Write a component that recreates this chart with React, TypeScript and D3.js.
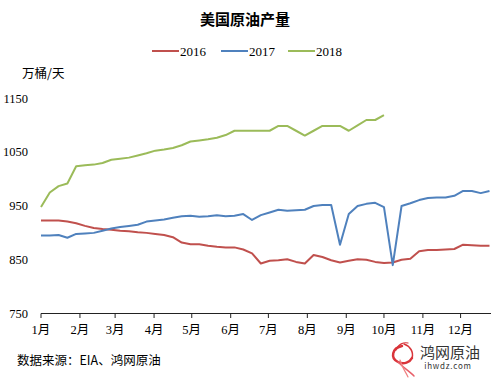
import React from "react";
import * as d3 from "d3";

const seriesNames = ["2016", "2017", "2018"];
const seriesColors = ["#c0504d", "#4f81bd", "#9bbb59"];

const prod2016 = [923, 923, 923, 921, 918, 913, 909, 907, 906, 904, 903, 901, 900, 898, 896, 892, 882, 879, 879, 876, 874, 873, 873, 869, 862, 843, 848, 849, 851, 846, 843, 859, 855, 849, 845, 848, 851, 850, 846, 844, 845, 850, 852, 866, 868, 868, 869, 870, 878, 877, 876, 876];
const prod2017 = [895, 895, 896, 891, 898, 899, 900, 904, 908, 911, 913, 915, 921, 923, 925, 928, 931, 932, 930, 931, 933, 931, 932, 935, 924, 933, 938, 943, 941, 942, 943, 950, 952, 952, 878, 935, 950, 954, 956, 948, 840, 950, 955, 961, 965, 966, 966, 969, 978, 978, 974, 978];
const prod2018 = [948, 975, 987, 992, 1024, 1026, 1027, 1030, 1036, 1038, 1040, 1044, 1048, 1053, 1055, 1058, 1063, 1070, 1072, 1074, 1077, 1082, 1090, 1090, 1090, 1090, 1090, 1099, 1099, 1090, 1081, 1090, 1099, 1099, 1099, 1090, 1100, 1110, 1110, 1119];

const monthLabels = ["1月", "2月", "3月", "4月", "5月", "6月", "7月", "8月", "9月", "10月", "11月", "12月"];
const yTicks = [750, 850, 950, 1050, 1150];

const W = 491, H = 378;
const start = new Date(2018, 0, 1);
const end = new Date(2018, 11, 26);
const x = d3.scaleTime().domain([start, end]).range([41, 492]);
const y = d3.scaleLinear().domain([750, 1150]).range([313.5, 98.5]);
const weekDate = (i: number) => d3.timeDay.offset(start, 7 * i);

const serif = "'Liberation Serif', 'Times New Roman', 'Noto Sans CJK SC', serif";
const sans = "'Noto Sans CJK SC', 'Noto Sans', sans-serif";

export default function App() {
  const allSeries = [prod2016, prod2017, prod2018];
  const line = d3
    .line<number>()
    .x((_, i) => x(weekDate(i)))
    .y((d) => y(d));
  const months = monthLabels.map((_, i) => new Date(2018, i, 1));
  const legendX = [152, 221, 288];

  return (
    <svg width={W} height={H} style={{ position: "absolute", left: 0, top: 0, background: "#fff" }}>
      <rect width={W} height={H} fill="#fff" />
      <text x={245} y={25} textAnchor="middle" fontFamily={sans} fontWeight="bold" fontSize={15} fill="#000">
        美国原油产量
      </text>
      {seriesNames.map((n, i) => (
        <g key={n}>
          <line x1={legendX[i]} x2={legendX[i] + 27} y1={51} y2={51} stroke={seriesColors[i]} strokeWidth={2} />
          <text x={legendX[i] + 28} y={55.5} fontFamily={serif} fontSize={13} fill="#000">
            {n}
          </text>
        </g>
      ))}
      <text x={22} y={78} fontFamily={sans} fontSize={12.5} fill="#000">
        万桶/天
      </text>
      {yTicks.map((t) => (
        <text key={t} x={28} y={y(t) + 4} textAnchor="end" fontFamily={serif} fontSize={12.5} fill="#000">
          {t}
        </text>
      ))}
      <line x1={41} x2={491} y1={313.5} y2={313.5} stroke="#222" strokeWidth={1} />
      {months.map((m, i) => (
        <g key={i}>
          <line x1={x(m)} x2={x(m)} y1={313.5} y2={318} stroke="#222" strokeWidth={1} />
          <text x={x(m)} y={334} textAnchor="middle" fontFamily={serif} fontSize={12.5} fill="#000">
            {monthLabels[i]}
          </text>
        </g>
      ))}
      {allSeries.map((s, i) => (
        <path key={i} d={line(s) || ""} fill="none" stroke={seriesColors[i]} strokeWidth={2} strokeLinejoin="round" />
      ))}
      <text x={17} y={365} fontFamily={sans} fontSize={12.5} fill="#000">
        数据来源：EIA、鸿网原油
      </text>
      <g fill="none" stroke="#d9343a" strokeLinecap="round">
        <path d="M402 346 C392 348 390 358 398 362 C404 365 410 362 412 358" strokeWidth={2.5} />
        <path d="M404 344 C410 346 414 352 412 358" strokeWidth={1.5} />
        <path d="M398 362 C404 368 410 372 414 376" strokeWidth={1.5} stroke="#e8606a" />
        <path d="M400 360 C402 368 406 372 408 377" strokeWidth={1.2} stroke="#f08080" />
        <path d="M396 350 C398 344 404 342 408 343" strokeWidth={1.2} />
      </g>
      <text x={420} y={358} fontFamily={serif} fontSize={15} fill="#333">
        鸿网原油
      </text>
      <text x={448} y={369} textAnchor="middle" fontFamily={sans} fontSize={8} fill="#333" letterSpacing={0.8}>
        ihwdz.com
      </text>
    </svg>
  );
}
